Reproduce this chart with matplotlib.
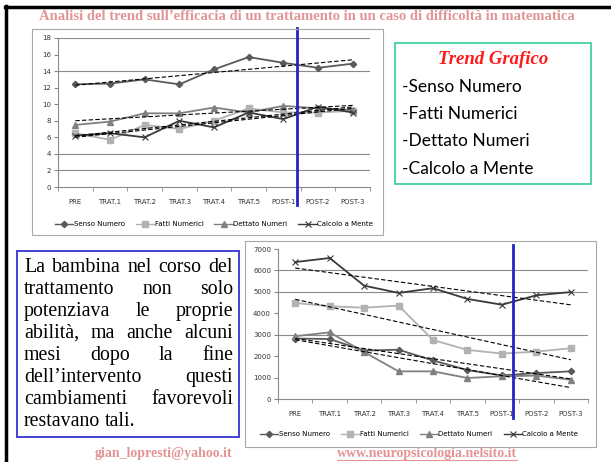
import matplotlib
matplotlib.use("Agg")
import matplotlib.pyplot as plt
import numpy as np
from matplotlib.lines import Line2D
from matplotlib.patches import Rectangle

W, H = 611, 462

categories = ["PRE", "TRAT.1", "TRAT.2", "TRAT.3", "TRAT.4", "TRAT.5",
              "POST-1", "POST-2", "POST-3"]
series_names = ["Senso Numero", "Fatti Numerici", "Dettato Numeri", "Calcolo a Mente"]

# top chart (scores)
top_senso = [12.4, 12.5, 13.0, 12.4, 14.2, 15.7, 15.0, 14.4, 14.9]
top_fatti = [6.5, 5.7, 7.5, 7.0, 8.0, 9.5, 9.0, 9.0, 9.2]
top_dettato = [7.5, 7.9, 8.9, 8.9, 9.6, 9.0, 9.8, 9.5, 9.3]
top_calcolo = [6.2, 6.5, 6.0, 8.0, 7.2, 9.0, 8.2, 9.7, 9.0]

# bottom chart (times)
bot_senso = [2820, 2800, 2260, 2300, 1800, 1350, 1100, 1210, 1290]
bot_fatti = [4480, 4330, 4260, 4360, 2750, 2290, 2120, 2210, 2370]
bot_dettato = [2930, 3110, 2190, 1290, 1290, 980, 1060, 1090, 900]
bot_calcolo = [6390, 6580, 5290, 4950, 5170, 4670, 4400, 4840, 4990]

text_lines = ["La bambina nel corso del", "trattamento non solo",
              "potenziava le proprie", "abilità, ma anche alcuni",
              "mesi dopo la fine", "dell\u2019intervento questi",
              "cambiamenti favorevoli", "restavano tali."]
trend_items = ["-Senso Numero", "-Fatti Numerici", "-Dettato Numeri", "-Calcolo a Mente"]

styles = [
    dict(color="#5a5a5a", marker="D", ms=3.2),
    dict(color="#b2b2b2", marker="s", ms=4.5),
    dict(color="#808080", marker="^", ms=4.5),
    dict(color="#3a3a3a", marker="x", ms=4.5, mew=0.8),
]
salmon = "#e39494"


def fx(x):
    return x / W


def fy(y):
    return 1 - y / H


def rect(x0, y0, x1, y1):
    return [fx(x0), fy(y1), (x1 - x0) / W, (y1 - y0) / H]


def box(fig, x0, y0, x1, y1, color, lw):
    fig.add_artist(Rectangle((fx(x0), fy(y1)), (x1 - x0) / W, (y1 - y0) / H,
                             transform=fig.transFigure, fill=False,
                             edgecolor=color, linewidth=lw))


def draw_chart(ax, data, ymax, ystep, grid_vals, blue_x, blue_span, legend_pos):
    x = np.arange(len(categories))
    for vals, st, name in zip(data, styles, series_names):
        ax.plot(x, vals, lw=1.3, label=name, **st)
    for vals in data:
        k, b = np.polyfit(x, vals, 1)
        ax.plot(x, k * x + b, color="black", lw=0.8, ls=(0, (4, 2)))
    ax.set_xlim(-0.5, len(categories) - 0.5)
    ax.set_ylim(0, ymax)
    ax.set_yticks(np.arange(0, ymax + ystep, ystep))
    ax.set_xticks(x)
    ax.set_xticklabels(categories)
    ax.set_xticks(np.arange(-0.5, len(categories)), minor=True)
    ax.tick_params(axis="x", which="major", length=0, labelsize=5, colors="#333333", pad=9)
    ax.tick_params(axis="x", which="minor", length=3, color="#888888")
    ax.tick_params(axis="y", length=3, labelsize=5, colors="#333333", pad=2, color="#888888")
    for v in grid_vals:
        ax.axhline(v, color="#8a8a8a", lw=0.8, zorder=0)
    for s in ["top", "right"]:
        ax.spines[s].set_visible(False)
    for s in ["left", "bottom"]:
        ax.spines[s].set_color("#8a8a8a")
        ax.spines[s].set_linewidth(0.8)
    ax.axvline(blue_x, ymin=blue_span[0], ymax=blue_span[1], color="#2323c8",
               lw=2, clip_on=False, zorder=5)
    handles = [Line2D([0], [0], lw=1.0, **st) for st in styles]
    ax.legend(handles, series_names, loc="center", bbox_to_anchor=legend_pos,
              ncol=4, frameon=False, fontsize=5, handlelength=2.6,
              handletextpad=0.1, columnspacing=1.6)


fig = plt.figure(figsize=(W / 100, H / 100), dpi=100)

# slide frame
fig.add_artist(Line2D([fx(6), fx(6)], [fy(6), fy(462)], color="black", lw=2.5))
fig.add_artist(Line2D([fx(5), fx(611)], [fy(7), fy(7)], color="black", lw=2.5))

fig.text(fx(307), fy(17), "Analisi del trend sull\u2019efficacia di un trattamento in un caso di difficoltà in matematica",
         ha="center", va="center", fontsize=10.5, fontweight="bold",
         family="Liberation Serif", color=salmon)

# top chart
box(fig, 32, 29, 383, 235, "#a8a8a8", 0.8)
ax1 = fig.add_axes(rect(58, 38, 370, 187))
draw_chart(ax1, [top_senso, top_fatti, top_dettato, top_calcolo], 18, 2,
           [2, 4, 14, 18], 6.39, (-0.12, 1.067), (0.5, -0.25))

# bottom chart
box(fig, 245, 241, 596, 447, "#a8a8a8", 0.8)
ax2 = fig.add_axes(rect(278, 249, 588, 399))
draw_chart(ax2, [bot_senso, bot_fatti, bot_dettato, bot_calcolo], 7000, 1000,
           [3000, 5000, 6000], 6.32, (-0.127, 1.027), (0.455, -0.233))

# trend box
box(fig, 395, 43, 591, 184, "#33cc99", 1.2)
fig.text(fx(493), fy(59), "Trend Grafico", ha="center", va="center", fontsize=13.5,
         fontweight="bold", style="italic", family="Liberation Serif", color="#ff1a1a")
for i, item in enumerate(trend_items):
    fig.text(fx(402), fy(87 + i * 27.2), item, ha="left", va="center",
             fontsize=12.5, family="Lato", color="black")

# justified text box
box(fig, 17, 251, 239, 437, "#3333cc", 1.3)
renderer = fig.canvas.get_renderer()
left, right = 24, 233
for i, line in enumerate(text_lines):
    yc = fy(267 + i * 22.1)
    words = line.split()
    objs = [fig.text(0, yc, w, ha="left", va="center", fontsize=14.3,
                     family="Liberation Serif", color="black") for w in words]
    widths = [o.get_window_extent(renderer=renderer).width for o in objs]
    if i == len(text_lines) - 1 or len(words) == 1:
        gap = objs[0].get_window_extent(renderer=renderer).height * 0.25
    else:
        gap = (right - left - sum(widths)) / (len(words) - 1)
    pos = left
    for o, w in zip(objs, widths):
        o.set_x(fx(pos))
        pos += w + gap

# footer
fig.text(fx(163), fy(453), "gian_lopresti@yahoo.it", ha="center", va="center",
         fontsize=10, fontweight="bold", family="Liberation Serif", color=salmon)
site = fig.text(fx(427), fy(453), "www.neuropsicologia.nelsito.it", ha="center", va="center",
                fontsize=10, fontweight="bold", family="Liberation Serif", color=salmon)
bb = site.get_window_extent(renderer=renderer)
fig.add_artist(Line2D([bb.x0 / W, bb.x1 / W], [(bb.y0 - 0.5) / H] * 2,
                      color=salmon, lw=0.8))

fig.savefig("out.png", dpi=100)
